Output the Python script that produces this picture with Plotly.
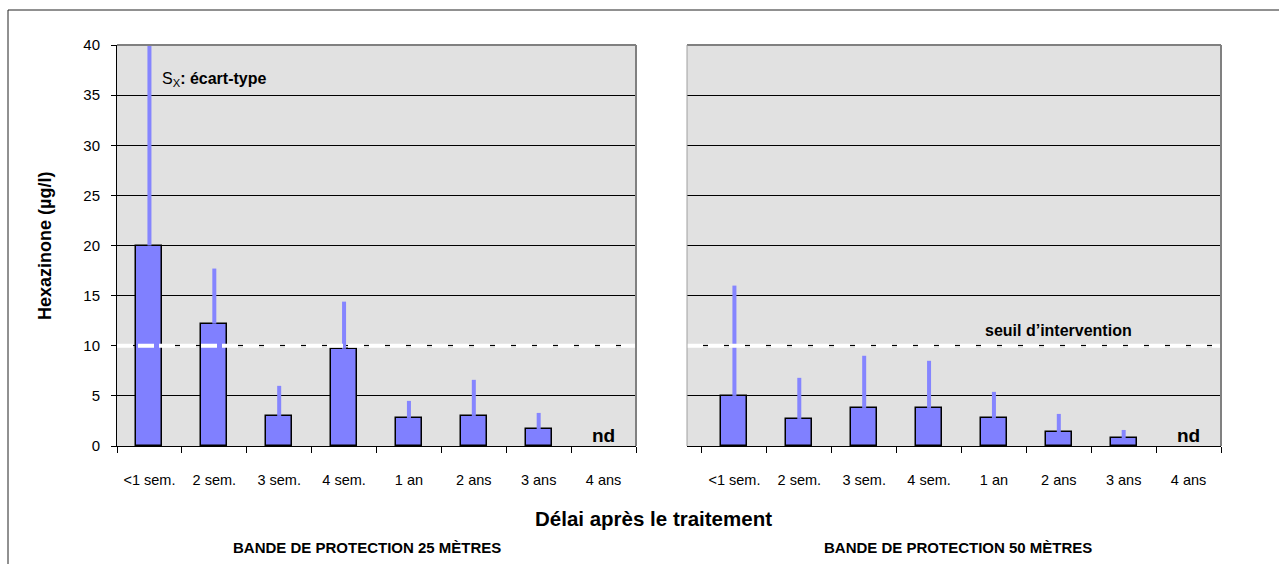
import plotly.graph_objects as go

categories = ["<1 sem.", "2 sem.", "3 sem.", "4 sem.", "1 an", "2 ans", "3 ans", "4 ans"]
mean_25 = [20.0, 12.2, 3.0, 9.7, 2.8, 3.0, 1.7, None]
sd_25 = [22.0, 5.5, 3.0, 4.7, 1.7, 3.6, 1.6, None]
mean_50 = [5.0, 2.7, 3.8, 3.8, 2.8, 1.4, 0.8, None]
sd_50 = [11.0, 4.1, 5.2, 4.7, 2.6, 1.8, 0.8, None]
threshold = 10
nd_label = "nd"
y_ticks = [0, 5, 10, 15, 20, 25, 30, 35, 40]

W, H = 1279, 564
FONT = "Liberation Sans, Arial, sans-serif"
BAR = "#8080FF"
ERR = "#8585FF"

idx = list(range(len(categories)))
bounds = [i - 0.5 for i in range(len(categories) + 1)]

def px(v):
    return v / W

def py(v):
    return 1 - v / H

fig = go.Figure()

for mean, sd, xa, ya in [(mean_25, sd_25, "x", "y"), (mean_50, sd_50, "x2", "y2")]:
    fig.add_trace(go.Bar(
        x=idx, y=mean, xaxis=xa, yaxis=ya, width=0.4,
        marker=dict(color=BAR, line=dict(color="black", width=1.5)),
        error_y=dict(type="data", array=sd, arrayminus=[0] * len(sd), symmetric=False,
                     color=ERR, thickness=4, width=0),
        showlegend=False, hoverinfo="skip",
    ))

ydom = [py(446), py(45)]
common_x = dict(showgrid=False, zeroline=False, showline=True, linecolor="black", linewidth=1,
                automargin=False,
                tickmode="array", tickvals=idx, ticktext=categories, ticks="",
                ticklabelstandoff=21,
                tickfont=dict(family=FONT, size=14.5, color="black"),
                minor=dict(ticks="outside", ticklen=6, tickcolor="black", tick0=-0.5, dtick=1,
                           showgrid=False))
common_y = dict(range=[0, 40], tickmode="array", tickvals=y_ticks, showgrid=True, gridcolor="black",
                gridwidth=1, zeroline=False, domain=ydom, automargin=False,
                tickfont=dict(family=FONT, size=15, color="black"))

fig.update_layout(
    width=W, height=H, margin=dict(l=0, r=0, t=0, b=0, autoexpand=False),
    paper_bgcolor="white", plot_bgcolor="#E1E1E1", bargap=0,
    xaxis=dict(domain=[px(117), px(636)], range=[-0.5, 7.5], anchor="y", **common_x),
    yaxis=dict(anchor="x", ticks="outside", ticklen=5, tickcolor="black", showline=True,
               linecolor="black", linewidth=1, ticklabelstandoff=8, **common_y),
    xaxis2=dict(domain=[px(687), px(1221)], range=[-0.731, 7.5], anchor="y2", **common_x),
    yaxis2=dict(anchor="x2", ticks="", showticklabels=False, showline=False, **common_y),
    xaxis3=dict(overlaying="x", anchor="y", range=[-0.5, 7.5], tickmode="array", tickvals=bounds,
                ticks="inside", ticklen=6, tickcolor="black", showticklabels=False, automargin=False,
                showgrid=False, zeroline=False, showline=False),
    xaxis4=dict(overlaying="x2", anchor="y2", range=[-0.731, 7.5], tickmode="array", tickvals=bounds,
                ticks="inside", ticklen=6, tickcolor="black", showticklabels=False, automargin=False,
                showgrid=False, zeroline=False, showline=False),
)

shapes = []
for xa, ya in [("x", "y"), ("x2", "y2")]:
    shapes.append(dict(type="line", xref=f"{xa} domain", yref=ya, x0=0, x1=1, y0=threshold, y1=threshold,
                       line=dict(color="black", width=2, dash="3px,18px"), layer="below"))
    shapes.append(dict(type="line", xref=f"{xa} domain", yref=ya, x0=0, x1=1, y0=threshold, y1=threshold,
                       line=dict(color="white", width=4, dash="16px,5px"), layer="above"))
    shapes.append(dict(type="line", xref=f"{xa} domain", yref=f"{ya} domain", x0=0, x1=1, y0=1, y1=1,
                       line=dict(color="#808080", width=2), layer="above"))
    shapes.append(dict(type="line", xref=f"{xa} domain", yref=f"{ya} domain", x0=1, x1=1, y0=0, y1=1,
                       line=dict(color="#808080", width=2), layer="above"))
shapes.append(dict(type="line", xref="x2 domain", yref="y2 domain", x0=0, x1=0, y0=0, y1=1,
                   line=dict(color="#A0A0A0", width=1), layer="above"))
shapes.append(dict(type="line", xref="paper", yref="paper", x0=px(8), x1=1.01, y0=py(10), y1=py(10),
                   line=dict(color="#222222", width=1)))
shapes.append(dict(type="line", xref="paper", yref="paper", x0=px(8), x1=px(8), y0=py(10), y1=-0.05,
                   line=dict(color="#222222", width=1)))
fig.update_layout(shapes=shapes)

def note(text, x, y, size, **kw):
    d = dict(text=text, xref="paper", yref="paper", x=px(x), y=py(y), xanchor="center",
             yanchor="middle", showarrow=False, font=dict(family=FONT, size=size, color="black"))
    d.update(kw)
    return d

ann = [
    note("<b>Hexazinone (µg/l)</b>", 45, 246, 18, textangle=-90),
    note("<b>Délai après le traitement</b>", 653, 518, 20.5),
    note("<b>BANDE DE PROTECTION 25 MÈTRES</b>", 367, 547, 15),
    note("<b>BANDE DE PROTECTION 50 MÈTRES</b>", 958, 547, 15),
    note("S<sub>X</sub><b>: écart-type</b>", 160, 79, 16, xanchor="left"),
    note("<b>seuil d’intervention</b>", 1058, 330, 16),
]
for xa, ya in [("x", "y"), ("x2", "y2")]:
    ann.append(dict(text=f"<b>{nd_label}</b>", xref=xa, yref=ya, x=idx[-1], y=0, xanchor="center",
                    yanchor="bottom", yshift=-2, showarrow=False,
                    font=dict(family=FONT, size=19, color="black")))
fig.update_layout(annotations=ann)

fig.write_html("out.html", config={"displayModeBar": False},
               post_script="document.body.style.margin='0px';")
